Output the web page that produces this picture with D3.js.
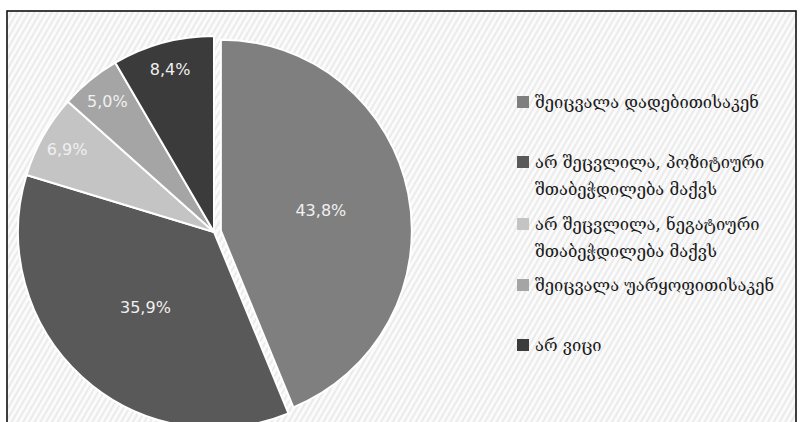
<!DOCTYPE html>
<html>
<head>
<meta charset="utf-8">
<script src="https://cdn.jsdelivr.net/npm/d3@7"></script>
<style>
  html, body { margin: 0; padding: 0; background: #ffffff; }
  svg { display: block; }
</style>
</head>
<body>
<script>
const categories = [
  "შეიცვალა დადებითისაკენ",
  "არ შეცვლილა, პოზიტიური შთაბეჭდილება მაქვს",
  "არ შეცვლილა, ნეგატიური შთაბეჭდილება მაქვს",
  "შეიცვალა უარყოფითისაკენ",
  "არ ვიცი"
];
const legendLines = [
  ["შეიცვალა დადებითისაკენ"],
  ["არ შეცვლილა, პოზიტიური", "შთაბეჭდილება მაქვს"],
  ["არ შეცვლილა, ნეგატიური", "შთაბეჭდილება მაქვს"],
  ["შეიცვალა უარყოფითისაკენ"],
  ["არ ვიცი"]
];
const values = [43.8, 35.9, 6.9, 5.0, 8.4];
const valueLabels = ["43,8%", "35,9%", "6,9%", "5,0%", "8,4%"];
const colors = ["#7f7f7f", "#595959", "#c4c4c4", "#a5a5a5", "#3b3b3b"];
const exploded = [true, false, false, false, false];

const W = 802, H = 422;
const svg = d3.select("body").append("svg").attr("width", W).attr("height", H);

// striped background pattern
const defs = svg.append("defs");
const pat = defs.append("pattern")
  .attr("id", "stripes").attr("patternUnits", "userSpaceOnUse")
  .attr("width", 5).attr("height", 5)
  .attr("patternTransform", "rotate(30)");
pat.append("rect").attr("width", 5).attr("height", 5).attr("fill", "#fbfbfb");
pat.append("rect").attr("width", 2).attr("height", 5).attr("fill", "#ebebeb");

svg.append("rect").attr("x", 7).attr("y", 11).attr("width", 789).attr("height", 430)
  .attr("fill", "url(#stripes)").attr("stroke", "#111").attr("stroke-width", 1.6);

const cx = 214, cy = 232, R = 196;
const pie = d3.pie().sort(null).value(d => d)(values);
const arcMain = d3.arc().innerRadius(0).outerRadius(R);
const arcExp = d3.arc().innerRadius(0).outerRadius(191);

const g = svg.append("g").attr("transform", `translate(${cx},${cy})`);
const off = 7;

pie.forEach((p, i) => {
  const mid = (p.startAngle + p.endAngle) / 2;
  const dx = exploded[i] ? off * Math.sin(mid) : 0;
  const dy = exploded[i] ? -off * Math.cos(mid) : 0;
  g.append("path")
    .attr("d", (exploded[i] ? arcExp : arcMain)(p))
    .attr("transform", `translate(${dx},${dy})`)
    .attr("fill", colors[i])
    .attr("stroke", "#ffffff").attr("stroke-width", 2).attr("stroke-linejoin", "round");
});

pie.forEach((p, i) => {
  const mid = (p.startAngle + p.endAngle) / 2;
  const big = values[i] > 20;
  const lr = big ? R * 0.52 : R * 0.86;
  const dx = exploded[i] ? off * Math.sin(mid) : 0;
  const dy = exploded[i] ? -off * Math.cos(mid) : 0;
  g.append("text")
    .attr("x", lr * Math.sin(mid) + dx)
    .attr("y", -lr * Math.cos(mid) + dy)
    .attr("text-anchor", "middle").attr("dominant-baseline", "central")
    .attr("font-family", "'DejaVu Sans', sans-serif")
    .attr("font-size", 16)
    .attr("fill", "#f0f0f0")
    .text(valueLabels[i]);
});

// legend
const legendY = [102, 162, 224, 285, 345];
const lg = svg.append("g");
categories.forEach((c, i) => {
  const y = legendY[i];
  lg.append("rect").attr("x", 517).attr("y", y - 6).attr("width", 12).attr("height", 12)
    .attr("fill", colors[i]);
  const t = lg.append("text")
    .attr("x", 535).attr("y", y)
    .attr("dominant-baseline", "central")
    .attr("font-family", "'DejaVu Serif', 'DejaVu Sans', serif")
    .attr("font-size", 16.5)
    .attr("fill", "#1a1a1a");
  legendLines[i].forEach((ln, j) => {
    t.append("tspan").attr("x", 535).attr("dy", j === 0 ? 0 : 27).text(ln);
  });
});
</script>
</body>
</html>
